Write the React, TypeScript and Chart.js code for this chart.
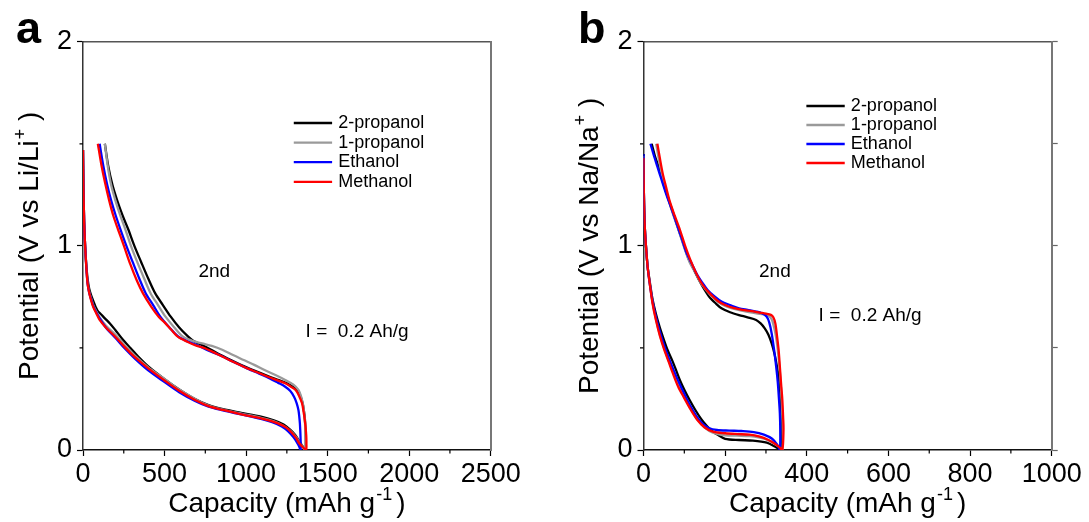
import React, { useEffect, useRef } from 'react';
import { Chart, registerables } from 'chart.js';

Chart.register(...registerables);

const FONT = "'Liberation Sans', Arial, Helvetica, sans-serif";

// ---------- series meta ----------
const seriesNames = ['2-propanol', '1-propanol', 'Ethanol', 'Methanol'];
const seriesColors = ['#000000', '#9a9a9a', '#0000ff', '#ff0000'];
const seriesDrawOrder = [3, 2, 1, 0];

// ---------- panel a (Li) ----------
const xTickLabelsA = [0, 500, 1000, 1500, 2000, 2500];
const yTickLabels = [0, 1, 2];

const a2propDisX = [0, 3, 7, 13, 20, 28, 38, 49, 63, 78, 91, 110, 134, 165, 198, 240, 283, 330, 400, 496, 590, 687, 770, 858, 970, 1091, 1170, 1230, 1270, 1300, 1325, 1345, 1364];
const a2propDisV = [1.47, 1.28, 1.12, 1.0, 0.91, 0.84, 0.79, 0.76, 0.73, 0.7, 0.68, 0.665, 0.645, 0.62, 0.588, 0.545, 0.506, 0.465, 0.41, 0.35, 0.297, 0.25, 0.22, 0.2, 0.182, 0.163, 0.145, 0.125, 0.1, 0.075, 0.045, 0.02, 0];
const a2propChX = [1366, 1364, 1360, 1353, 1347, 1333, 1315, 1285, 1251, 1200, 1145, 1070, 996, 910, 826, 765, 709, 675, 645, 590, 538, 490, 443, 400, 357, 315, 278, 242, 209, 180, 155, 134];
const a2propChV = [0.04, 0.1, 0.16, 0.2, 0.229, 0.265, 0.294, 0.31, 0.327, 0.343, 0.359, 0.383, 0.408, 0.44, 0.473, 0.5, 0.522, 0.535, 0.555, 0.6, 0.653, 0.71, 0.767, 0.84, 0.92, 1.0, 1.08, 1.15, 1.224, 1.3, 1.39, 1.5];

const a1propDisX = [0, 3, 7, 13, 20, 28, 38, 49, 63, 81, 102, 140, 198, 255, 315, 400, 496, 590, 687, 770, 858, 970, 1091, 1170, 1230, 1270, 1300, 1325, 1345, 1362];
const a1propDisV = [1.47, 1.28, 1.12, 1.0, 0.9, 0.82, 0.775, 0.745, 0.71, 0.68, 0.65, 0.61, 0.565, 0.515, 0.465, 0.405, 0.35, 0.296, 0.25, 0.218, 0.198, 0.178, 0.158, 0.14, 0.118, 0.095, 0.07, 0.042, 0.018, 0];
const a1propChX = [1364, 1363, 1360, 1355, 1351, 1338, 1321, 1290, 1240, 1180, 1113, 1050, 985, 920, 857, 790, 730, 670, 613, 560, 506, 460, 415, 375, 333, 294, 260, 228, 198, 172, 152, 134];
const a1propChV = [0.04, 0.1, 0.15, 0.19, 0.212, 0.26, 0.294, 0.32, 0.343, 0.367, 0.392, 0.417, 0.441, 0.465, 0.49, 0.51, 0.522, 0.535, 0.555, 0.6, 0.653, 0.71, 0.767, 0.84, 0.92, 1.0, 1.08, 1.15, 1.224, 1.3, 1.39, 1.5];

const aEthDisX = [0, 3, 7, 13, 20, 28, 38, 49, 63, 81, 102, 140, 198, 255, 315, 400, 496, 590, 687, 770, 858, 970, 1091, 1160, 1219, 1260, 1290, 1310, 1325, 1334];
const aEthDisV = [1.47, 1.28, 1.12, 1.0, 0.9, 0.816, 0.77, 0.74, 0.705, 0.675, 0.645, 0.6, 0.55, 0.498, 0.45, 0.39, 0.335, 0.283, 0.24, 0.212, 0.194, 0.174, 0.152, 0.136, 0.115, 0.09, 0.063, 0.04, 0.018, 0];
const aEthChX = [1335, 1334, 1332, 1330, 1326, 1321, 1310, 1294, 1270, 1240, 1195, 1145, 1080, 1006, 920, 836, 760, 698, 640, 585, 530, 474, 430, 385, 345, 305, 266, 230, 200, 172, 148, 125, 102];
const aEthChV = [0.03, 0.06, 0.1, 0.13, 0.165, 0.196, 0.23, 0.261, 0.29, 0.31, 0.33, 0.351, 0.374, 0.4, 0.432, 0.465, 0.49, 0.514, 0.532, 0.555, 0.6, 0.653, 0.71, 0.767, 0.84, 0.92, 1.0, 1.08, 1.15, 1.224, 1.3, 1.39, 1.5];

const aMethDisX = [0, 3, 7, 13, 20, 28, 38, 49, 63, 81, 102, 140, 198, 255, 315, 400, 496, 590, 687, 770, 858, 970, 1091, 1160, 1219, 1255, 1283, 1308, 1326, 1350, 1368];
const aMethDisV = [1.47, 1.28, 1.12, 1.0, 0.9, 0.816, 0.77, 0.735, 0.7, 0.67, 0.637, 0.6, 0.555, 0.505, 0.457, 0.4, 0.343, 0.29, 0.245, 0.215, 0.196, 0.175, 0.155, 0.14, 0.122, 0.105, 0.082, 0.058, 0.033, 0.012, 0];
const aMethChX = [1370, 1369, 1365, 1360, 1352, 1343, 1325, 1304, 1275, 1240, 1190, 1134, 1060, 985, 900, 815, 750, 687, 640, 581, 540, 500, 464, 420, 368, 330, 290, 251, 215, 185, 160, 135, 112, 91];
const aMethChV = [0.03, 0.07, 0.11, 0.147, 0.19, 0.229, 0.265, 0.294, 0.31, 0.327, 0.342, 0.359, 0.383, 0.408, 0.44, 0.473, 0.497, 0.514, 0.53, 0.555, 0.59, 0.625, 0.653, 0.7, 0.767, 0.83, 0.91, 1.0, 1.08, 1.15, 1.224, 1.31, 1.4, 1.5];

// ---------- panel b (Na) ----------
const xTickLabelsB = [0, 200, 400, 600, 800, 1000];

const b2propDisX = [0, 1, 3, 6, 10, 15, 22, 30, 40, 50, 59, 70, 80, 89, 100, 113, 127, 142, 157, 170, 183, 200, 234, 268, 302, 323, 336];
const b2propDisV = [1.45, 1.25, 1.1, 1.0, 0.9, 0.83, 0.74, 0.67, 0.6, 0.54, 0.49, 0.44, 0.39, 0.343, 0.295, 0.245, 0.196, 0.15, 0.114, 0.09, 0.073, 0.055, 0.049, 0.046, 0.036, 0.016, 0];
const b2propChX = [337, 337, 336, 333, 327, 321, 314, 306, 297, 287, 276, 255, 234, 212, 191, 176, 161, 148, 136, 123, 110, 98, 85, 72, 59, 48, 38, 28, 20];
const b2propChV = [0.1, 0.17, 0.245, 0.33, 0.408, 0.47, 0.522, 0.565, 0.596, 0.62, 0.637, 0.65, 0.661, 0.675, 0.694, 0.72, 0.751, 0.79, 0.833, 0.885, 0.939, 1.01, 1.086, 1.165, 1.241, 1.31, 1.38, 1.44, 1.5];

const b1propDisX = [0, 1, 3, 6, 10, 15, 22, 30, 40, 51, 62, 73, 86, 99, 115, 132, 150, 170, 200, 230, 260, 285, 305, 320, 332, 340];
const b1propDisV = [1.44, 1.25, 1.1, 1.0, 0.9, 0.82, 0.725, 0.645, 0.565, 0.495, 0.435, 0.38, 0.315, 0.265, 0.205, 0.15, 0.11, 0.085, 0.072, 0.07, 0.068, 0.06, 0.048, 0.032, 0.015, 0];
const b1propChX = [341, 340, 338, 336, 333, 329, 325, 320, 314, 305, 290, 270, 240, 215, 200, 183, 166, 152, 140, 127, 113, 100, 87, 74, 62, 53, 45, 38, 31];
const b1propChV = [0.1, 0.18, 0.26, 0.33, 0.41, 0.49, 0.55, 0.6, 0.64, 0.66, 0.665, 0.672, 0.683, 0.695, 0.705, 0.725, 0.755, 0.787, 0.82, 0.87, 0.92, 0.99, 1.07, 1.145, 1.22, 1.285, 1.35, 1.42, 1.5];

const bEthDisX = [0, 1, 3, 6, 10, 15, 22, 30, 40, 51, 62, 74, 87, 100, 115, 130, 145, 160, 180, 210, 240, 270, 295, 315, 328, 334];
const bEthDisV = [1.45, 1.25, 1.1, 1.0, 0.9, 0.82, 0.73, 0.655, 0.58, 0.51, 0.45, 0.39, 0.33, 0.275, 0.215, 0.165, 0.128, 0.108, 0.098, 0.095, 0.093, 0.088, 0.075, 0.055, 0.025, 0];
const bEthChX = [335, 334, 332, 329, 325, 320, 314, 308, 302, 290, 276, 255, 234, 212, 191, 174, 157, 144, 132, 119, 106, 93, 81, 68, 55, 44, 34, 25, 17];
const bEthChV = [0.1, 0.18, 0.245, 0.33, 0.408, 0.49, 0.571, 0.625, 0.653, 0.67, 0.678, 0.686, 0.694, 0.71, 0.727, 0.752, 0.784, 0.82, 0.857, 0.91, 0.963, 1.04, 1.11, 1.185, 1.257, 1.325, 1.388, 1.445, 1.5];

const bMethDisX = [0, 1, 3, 6, 10, 15, 22, 30, 40, 51, 62, 72, 85, 98, 115, 132, 150, 170, 200, 230, 260, 285, 305, 320, 332, 340];
const bMethDisV = [1.43, 1.25, 1.1, 1.0, 0.9, 0.82, 0.72, 0.64, 0.56, 0.49, 0.43, 0.375, 0.31, 0.261, 0.2, 0.147, 0.11, 0.09, 0.082, 0.078, 0.075, 0.065, 0.05, 0.033, 0.015, 0];
const bMethChX = [343, 342, 340, 337, 334, 331, 327, 323, 318, 312, 300, 285, 265, 242, 220, 200, 182, 166, 152, 140, 127, 115, 102, 89, 76, 64, 55, 47, 40, 34];
const bMethChV = [0.1, 0.163, 0.25, 0.327, 0.41, 0.49, 0.56, 0.62, 0.65, 0.662, 0.668, 0.673, 0.68, 0.686, 0.696, 0.71, 0.73, 0.76, 0.79, 0.824, 0.875, 0.93, 1.0, 1.08, 1.15, 1.22, 1.29, 1.355, 1.43, 1.5];

// ---------- panel layout (pixel geometry, not data) ----------
const panelA = {
  id: 'a',
  letter: 'a',
  canvasLeft: 0,
  canvasWidth: 545,
  plotLeft: 83,
  plotRight: 490.7,
  xMax: 2500,
  xStep: 250,
  xLabels: xTickLabelsA,
  rightTicks: false,
  series: [
    [a2propDisX, a2propDisV, a2propChX, a2propChV],
    [a1propDisX, a1propDisV, a1propChX, a1propChV],
    [aEthDisX, aEthDisV, aEthChX, aEthChV],
    [aMethDisX, aMethDisV, aMethChX, aMethChV],
  ],
  ion: 'Li/Li',
  letterX: 16,
  yTitleX: 37.5,
  legendY: 123,
  legendPitch: 19.6,
  legendLine: [0.517, 0.611],
  legendText: 0.626,
  cycleAt: [708, 0.873],
  currentAt: [1365, 0.578],
};

const panelB = {
  id: 'b',
  letter: 'b',
  canvasLeft: 545,
  canvasWidth: 544,
  plotLeft: 98.5,
  plotRight: 506.7,
  xMax: 1000,
  xStep: 100,
  xLabels: xTickLabelsB,
  rightTicks: true,
  series: [
    [b2propDisX, b2propDisV, b2propChX, b2propChV],
    [b1propDisX, b1propDisV, b1propChX, b1propChV],
    [bEthDisX, bEthDisV, bEthChX, bEthChV],
    [bMethDisX, bMethDisV, bMethChX, bMethChV],
  ],
  ion: 'Na/Na',
  letterX: 33,
  yTitleX: 53,
  legendY: 106,
  legendPitch: 19,
  legendLine: [0.399, 0.493],
  legendText: 0.508,
  cycleAt: [283, 0.873],
  currentAt: [429, 0.657],
};

const PLOT_TOP = 41.7;
const PLOT_BOTTOM = 450;
const CANVAS_H = 522;

function drawRich(ctx: any, parts: any[], x0: number, y: number, size: number, supSize: number, rise: number, center: boolean) {
  const widths = parts.map((p) => {
    ctx.font = `${p.sup ? supSize : size}px ${FONT}`;
    return ctx.measureText(p.t).width + (p.gap || 0);
  });
  const total = widths.reduce((s: number, w: number) => s + w, 0);
  let x = center ? x0 - total / 2 : x0;
  parts.forEach((p, i) => {
    ctx.font = `${p.sup ? supSize : size}px ${FONT}`;
    ctx.fillText(p.t, x + (p.gap || 0), p.sup ? y - rise : y);
    x += widths[i];
  });
}

function makeDecor(p: any) {
  return {
    id: 'decor_' + p.id,
    afterDraw(chart: any) {
      const ctx = chart.ctx;
      const ca = chart.chartArea;
      const xs = chart.scales.x;
      const ys = chart.scales.y;
      const w = ca.right - ca.left;
      ctx.save();
      // minor ticks
      ctx.strokeStyle = '#000';
      ctx.lineWidth = 1.2;
      ctx.beginPath();
      xs.ticks.forEach((t: any) => {
        if (!p.xLabels.includes(t.value)) {
          const px = xs.getPixelForValue(t.value);
          ctx.moveTo(px, ca.bottom);
          ctx.lineTo(px, ca.bottom + 3.5);
        }
      });
      ys.ticks.forEach((t: any) => {
        if (!yTickLabels.includes(t.value)) {
          const py = ys.getPixelForValue(t.value);
          ctx.moveTo(ca.left - 3.5, py);
          ctx.lineTo(ca.left, py);
        }
      });
      ctx.stroke();

      // legend
      ctx.textAlign = 'left';
      ctx.textBaseline = 'middle';
      ctx.font = `18px ${FONT}`;
      seriesNames.forEach((name, i) => {
        const y = p.legendY + i * p.legendPitch;
        ctx.strokeStyle = seriesColors[i];
        ctx.lineWidth = 2.3;
        ctx.beginPath();
        ctx.moveTo(ca.left + p.legendLine[0] * w, y);
        ctx.lineTo(ca.left + p.legendLine[1] * w, y);
        ctx.stroke();
        ctx.fillStyle = '#000';
        ctx.fillText(name, ca.left + p.legendText * w, y);
      });

      // annotations
      ctx.font = `19px ${FONT}`;
      ctx.fillStyle = '#000';
      ctx.fillText('2nd', xs.getPixelForValue(p.cycleAt[0]), ys.getPixelForValue(p.cycleAt[1]));
      ctx.fillText('I =  0.2 Ah/g', xs.getPixelForValue(p.currentAt[0]), ys.getPixelForValue(p.currentAt[1]));

      // axis titles
      ctx.textBaseline = 'alphabetic';
      drawRich(ctx, [{ t: 'Capacity (mAh g' }, { t: '-1', sup: true, gap: 1 }, { t: ')', gap: 4 }],
        (ca.left + ca.right) / 2, 512, 28, 18, 12, true);
      ctx.save();
      ctx.translate(p.yTitleX, (ca.top + ca.bottom) / 2);
      ctx.rotate(-Math.PI / 2);
      drawRich(ctx, [{ t: 'Potential (V vs ' + p.ion }, { t: '+', sup: true, gap: 1 }, { t: ' )' }],
        0, 0, 28, 18, 12, true);
      ctx.restore();

      // panel letter
      ctx.font = `bold 45px ${FONT}`;
      ctx.fillText(p.letter, p.letterX, 43);
      ctx.restore();
    },
  };
}

function buildConfig(p: any): any {
  const datasets = p.series.map((s: any[], i: number) => {
    const xs = [...s[0], ...s[2]];
    const vs = [...s[1], ...s[3]];
    return {
      label: seriesNames[i],
      data: xs.map((x: number, k: number) => ({ x, y: vs[k] })),
      borderColor: seriesColors[i],
      backgroundColor: seriesColors[i],
      borderWidth: 2.3,
      pointRadius: 0,
      showLine: true,
      fill: false,
      tension: 0.3,
      order: seriesDrawOrder[i],
    };
  });

  const tickFont = { family: FONT, size: 27 };

  return {
    type: 'scatter',
    data: { datasets },
    plugins: [makeDecor(p)],
    options: {
      animation: false,
      responsive: false,
      maintainAspectRatio: false,
      layout: {
        padding: { left: 0, top: PLOT_TOP, right: p.canvasWidth - p.plotRight, bottom: 0 },
      },
      plugins: { legend: { display: false }, tooltip: { enabled: false }, title: { display: false } },
      scales: {
        x: {
          type: 'linear',
          position: 'bottom',
          min: 0,
          max: p.xMax,
          ticks: {
            stepSize: p.xStep,
            autoSkip: false,
            maxRotation: 0,
            padding: 2,
            color: '#000',
            font: tickFont,
            callback: (v: number) => (p.xLabels.includes(v) ? String(v) : ''),
          },
          grid: {
            drawOnChartArea: false,
            drawTicks: true,
            tickLength: 6,
            tickWidth: 1.2,
            tickColor: (c: any) => (c.tick && p.xLabels.includes(c.tick.value) ? '#000' : 'rgba(0,0,0,0)'),
          },
          border: { display: true, color: '#111', width: 1.5 },
          afterFit: (s: any) => {
            s.height = CANVAS_H - PLOT_BOTTOM;
            s.paddingLeft = 0;
            s.paddingRight = 0;
          },
        },
        x2: {
          type: 'linear',
          position: 'top',
          min: 0,
          max: p.xMax,
          ticks: { display: false },
          grid: { drawOnChartArea: false, drawTicks: false },
          border: { display: true, color: '#555', width: 1.5 },
          afterFit: (s: any) => {
            s.height = 0;
            s.paddingLeft = 0;
            s.paddingRight = 0;
          },
        },
        y: {
          type: 'linear',
          position: 'left',
          min: 0,
          max: 2,
          ticks: {
            stepSize: 0.5,
            autoSkip: false,
            padding: 5,
            color: '#000',
            font: tickFont,
            callback: (v: number) => (yTickLabels.includes(v) ? String(v) : ''),
          },
          grid: {
            drawOnChartArea: false,
            drawTicks: true,
            tickLength: 6,
            tickWidth: 1.2,
            tickColor: (c: any) => (c.tick && yTickLabels.includes(c.tick.value) ? '#000' : 'rgba(0,0,0,0)'),
          },
          border: { display: true, color: '#333', width: 1.5 },
          afterFit: (s: any) => {
            s.width = p.plotLeft;
            s.paddingTop = 0;
            s.paddingBottom = 0;
          },
        },
        y2: {
          type: 'linear',
          position: 'right',
          min: 0,
          max: 2,
          ticks: { display: false, stepSize: 0.5 },
          grid: {
            drawOnChartArea: false,
            drawTicks: p.rightTicks,
            tickLength: 6,
            tickWidth: 1.2,
            tickColor: '#666',
          },
          border: { display: true, color: '#777', width: 2 },
          afterFit: (s: any) => {
            s.width = 0;
            s.paddingTop = 0;
            s.paddingBottom = 0;
          },
        },
      },
    },
  };
}

function Panel({ p }: { p: any }) {
  const ref = useRef<HTMLCanvasElement | null>(null);
  useEffect(() => {
    if (!ref.current) return;
    const chart = new Chart(ref.current, buildConfig(p));
    return () => chart.destroy();
  }, [p]);
  return (
    <canvas
      ref={ref}
      width={p.canvasWidth}
      height={CANVAS_H}
      style={{ position: 'absolute', left: p.canvasLeft, top: 0, width: p.canvasWidth, height: CANVAS_H, display: 'block' }}
    />
  );
}

export default function App() {
  return (
    <div style={{ position: 'absolute', left: 0, top: 0, width: 1089, height: 522, background: '#fff', overflow: 'hidden' }}>
      <Panel p={panelA} />
      <Panel p={panelB} />
    </div>
  );
}
